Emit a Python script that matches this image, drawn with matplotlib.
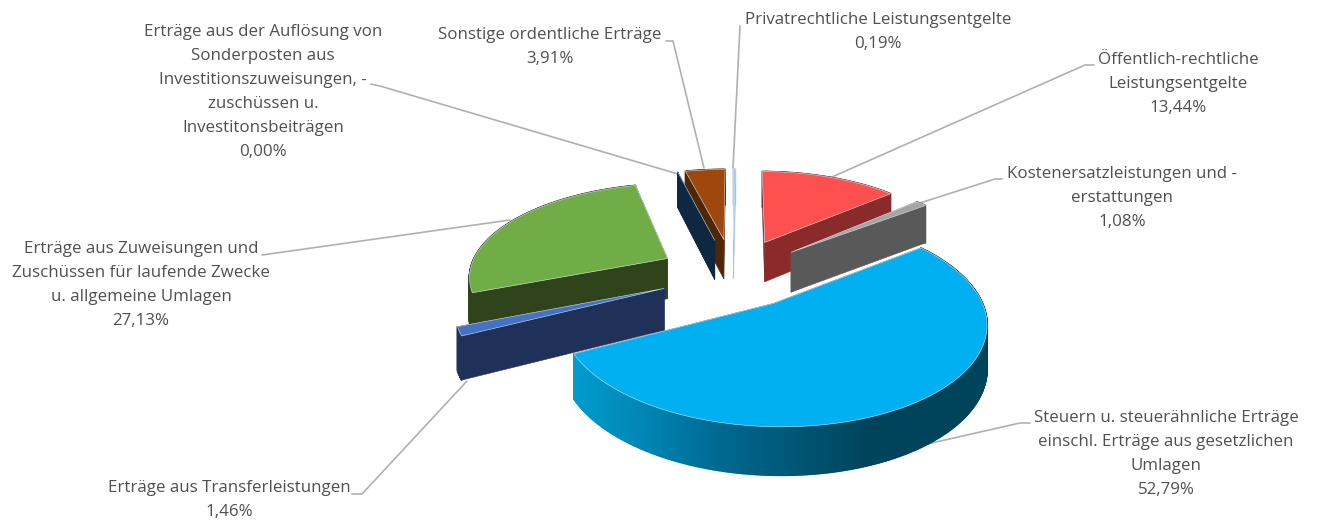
import numpy as np
import matplotlib
matplotlib.use("Agg")
import matplotlib.pyplot as plt
from matplotlib.patches import Polygon
from matplotlib.collections import PolyCollection

plt.rcParams['font.family'] = ['Open Sans', 'DejaVu Sans']

values = [0.19, 13.44, 1.08, 52.79, 1.46, 27.13, 0.00, 3.91]
names = [
    "Privatrechtliche Leistungsentgelte",
    "Öffentlich-rechtliche\nLeistungsentgelte",
    "Kostenersatzleistungen und -\nerstattungen",
    "Steuern u. steuerähnliche Erträge\neinschl. Erträge aus gesetzlichen\nUmlagen",
    "Erträge aus Transferleistungen",
    "Erträge aus Zuweisungen und\nZuschüssen für laufende Zwecke\nu. allgemeine Umlagen",
    "Erträge aus der Auflösung von\nSonderposten aus\nInvestitionszuweisungen, -\nzuschüssen u.\nInvestitonsbeiträgen",
    "Sonstige ordentliche Erträge",
]
explode = [0.4, 0.4, 0.39, 0.36, 0.37, 0.38, 0.4, 0.4]
top_colors = ['#9DC3E6', '#FF5050', '#A5A5A5', '#00B0F0', '#4472C4', '#70AD47', '#264478', '#9E480E']
side_colors = ['#9DC3E6', '#8B2A2A', '#595959', '#00465F', '#1F3159', '#2F441B', '#0E2841', '#4F2607']
label_xy = [(878, 32), (1178, 84), (1122, 198), (1166, 454), (229, 500), (141, 285), (263, 92), (550, 47)]
leaders = [
    [(740, 26), (733, 168)],
    [(1094, 65), (1085, 65), (832, 177)],
    [(1002, 179), (995, 179), (920, 203)],
    [(1030, 423), (1020, 423), (905, 449)],
    [(352, 494), (362, 494), (467, 381)],
    [(262, 255), (510, 220)],
    [(371, 84), (380, 86), (678, 174)],
    [(666, 41), (673, 41), (704, 168)],
]

CX, CY, A, B, K, DEPTH = 733, 274, 199, 92, 0.164, 41


def project(X, Y):
    w = 1 + K * Y
    return CX + A * X / w, CY - B * Y / w, DEPTH / w ** 0.7


def slice_geometry(t0, t1, e):
    mid = np.radians((t0 + t1) / 2)
    ex, ey = e * np.sin(mid), e * np.cos(mid)
    th = np.radians(np.linspace(t0, t1, max(2, int(abs(t1 - t0) * 2) + 2)))
    ax, ay, ad = project(ex + np.sin(th), ey + np.cos(th))
    tx, ty, td = project(ex, ey)
    return (ax, ay, ad), (float(tx), float(ty), float(td))


fig = plt.figure(figsize=(13.17, 5.23), dpi=100)
ax = fig.add_axes([0, 0, 1, 1])
ax.set_xlim(0, 1317)
ax.set_ylim(523, 0)
ax.axis('off')

for pts in leaders:
    xs, ys = zip(*pts)
    ax.plot(xs, ys, color='#B0B0B0', lw=1.2, zorder=1, solid_capstyle='round')

edges = np.cumsum([0] + values) * 3.6
order = sorted(range(len(values)), key=lambda i: -np.cos(np.radians((edges[i] + edges[i + 1]) / 2)))

GRAD_X = [575, 640, 720, 800, 865, 1000]
GRAD_G = [155, 135, 105, 85, 68, 68]
GRAD_B = [205, 180, 145, 115, 92, 92]

z = 2
for i in order:
    (ax_, ay_, ad_), (tx, ty, td) = slice_geometry(edges[i], edges[i + 1], explode[i])
    for (ex_, ey_, ed_) in [(ax_[0], ay_[0], ad_[0]), (ax_[-1], ay_[-1], ad_[-1])]:
        ax.add_patch(Polygon([(tx, ty), (ex_, ey_), (ex_, ey_ + ed_), (tx, ty + td)],
                             closed=True, fc=side_colors[i], ec=side_colors[i], lw=0.4, zorder=z))
    quads, cols = [], []
    for j in range(len(ax_) - 1):
        quads.append([(ax_[j], ay_[j]), (ax_[j + 1], ay_[j + 1]),
                      (ax_[j + 1], ay_[j + 1] + ad_[j + 1]), (ax_[j], ay_[j] + ad_[j])])
        if i == 3:
            xm = (ax_[j] + ax_[j + 1]) / 2
            cols.append((0, np.interp(xm, GRAD_X, GRAD_G) / 255, np.interp(xm, GRAD_X, GRAD_B) / 255))
        else:
            cols.append(side_colors[i])
    ax.add_collection(PolyCollection(quads, facecolors=cols, edgecolors=cols, linewidths=1.2, zorder=z + 0.1))
    ax.add_patch(Polygon(np.column_stack([np.r_[tx, ax_], np.r_[ty, ay_]]), closed=True,
                         fc=top_colors[i], ec='#D8E4EC', lw=0.4, zorder=z + 0.2))
    z += 1

for name, val, (lx, ly) in zip(names, values, label_xy):
    pct = f"{val:.2f}".replace('.', ',') + '%'
    ax.text(lx, ly, name + '\n' + pct, ha='center', va='center', fontsize=12.2,
            color='#505050', linespacing=1.65, zorder=30)

fig.savefig('out.png', dpi=100, facecolor='white')
